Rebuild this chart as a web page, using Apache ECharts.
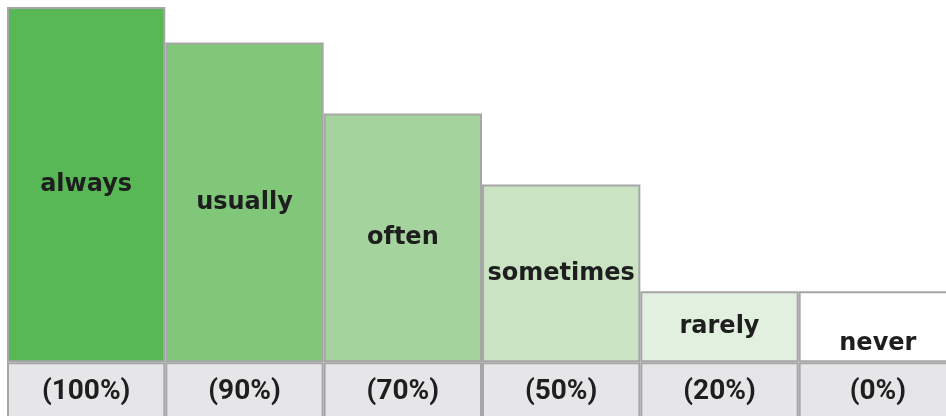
<!DOCTYPE html>
<html lang="en">
<head>
    <meta charset="UTF-8">
    <title>Frequency scale</title>
    <script src="https://cdn.jsdelivr.net/npm/echarts@6/dist/echarts.min.js"></script>
    <style type="text/css">
        html, body {
            margin: 0;
            height: 100%;
            overflow: hidden;
            background: #ffffff;
        }
        /* wider and taller than the window: the last column and the bottom row run off the edge */
        #chart {
            width: 957px;
            height: 419px;
        }
    </style>
</head>
<body>
    <div id="chart"></div>
    <script type="text/javascript">
        // data
        var categories = ['always', 'usually', 'often', 'sometimes', 'rarely', 'never'];
        var barHeights = [100, 90, 70, 50, 20, 20];
        var percentLabels = ['(100%)', '(90%)', '(70%)', '(50%)', '(20%)', '(0%)'];
        var barColors = ['#59b856', '#80c77a', '#a4d39d', '#c9e3c3', '#e2f0df', '#ffffff'];
        var baseRow = [-16, -16, -16, -16, -16, -16];

        var chart = echarts.init(document.getElementById('chart'));

        var topData = [];
        for (var i = 0; i < categories.length; i++) {
            var item = {
                value: barHeights[i],
                itemStyle: { color: barColors[i] }
            };
            if (categories[i] === 'never') {
                item.label = { position: 'insideBottom', distance: 6 };
            }
            topData.push(item);
        }

        var option = {
            animation: false,
            backgroundColor: '#ffffff',
            grid: {
                left: 7,
                right: 0,
                top: 7,
                bottom: 0
            },
            xAxis: {
                type: 'category',
                data: categories,
                show: false
            },
            yAxis: {
                type: 'value',
                min: -16,
                max: 100,
                show: false
            },
            series: [
                {
                    type: 'bar',
                    name: 'level',
                    data: topData,
                    barWidth: '100%',
                    barGap: '-100%',
                    itemStyle: {
                        borderColor: '#a6a6a6',
                        borderWidth: 2
                    },
                    label: {
                        show: true,
                        position: 'inside',
                        formatter: function (p) { return p.name; },
                        fontFamily: 'DejaVu Sans',
                        fontWeight: 'bold',
                        fontSize: 24,
                        color: '#1e1e1e'
                    }
                },
                {
                    type: 'bar',
                    name: 'percent',
                    data: baseRow,
                    barWidth: '100%',
                    itemStyle: {
                        color: '#e6e6e8',
                        borderColor: '#a6a6a6',
                        borderWidth: 2
                    },
                    label: {
                        show: true,
                        position: 'inside',
                        offset: [0, 1],
                        formatter: function (p) { return percentLabels[p.dataIndex]; },
                        fontFamily: 'Roboto',
                        fontWeight: 'bold',
                        fontSize: 28,
                        color: '#1e1e1e'
                    }
                }
            ]
        };

        chart.setOption(option);
    </script>
</body>
</html>
